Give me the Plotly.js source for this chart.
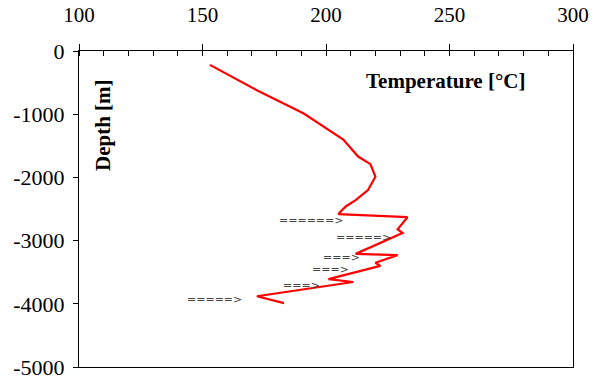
<!DOCTYPE html>
<html>
<head>
<meta charset="utf-8">
<script src="https://cdn.plot.ly/plotly-3.0.1.min.js"></script>
<style>html,body{margin:0;padding:0;background:#fff;}#chart{width:595px;height:381px;}</style>
</head>
<body>
<div id="chart"></div>
<script>
// Temperature profile (°C) vs depth (m)
const temperature = [153, 172, 191, 207, 213, 218, 220, 217, 212, 208, 205, 233, 229, 231, 212, 229, 220, 222, 201, 211, 172, 183];
const depth = [-220, -620, -990, -1400, -1670, -1790, -1990, -2200, -2360, -2460, -2580, -2630, -2820, -2880, -3210, -3230, -3350, -3400, -3610, -3655, -3880, -3990];

// Arrow markers (text) pointing at zones
const arrowTemps = [208, 227, 214.6, 210, 198.5, 166.7];
const arrowDepths = [-2685, -2954, -3265, -3450, -3714, -3929];
const arrowLabels = ["======>", "=====>", "===>", "===>", "===>", "=====>"];

// Tick labels
const xTickVals = [100, 150, 200, 250, 300];
const xTickText = ["100", "150", "200", "250", "300"];
const yTickVals = [0, -1000, -2000, -3000, -4000, -5000];
const yTickText = ["0", "-1000", "-2000", "-3000", "-4000", "-5000"];

const serif = "Liberation Serif, Times New Roman, serif";

const traces = [{
  x: temperature, y: depth, type: "scatter", mode: "lines",
  line: {color: "#ff0000", width: 2.2}, showlegend: false, hoverinfo: "none"
}];

const annotations = arrowLabels.map((t, i) => ({
  x: arrowTemps[i], y: arrowDepths[i], xref: "x", yref: "y",
  text: t, showarrow: false, xanchor: "right", yanchor: "middle",
  font: {family: "DejaVu Sans, sans-serif", size: 11, color: "#444444"}
}));
annotations.push({
  xref: "paper", yref: "paper", x: (445 - 79) / 494, y: 1 - (81 - 51) / 316,
  text: "<b>Temperature [°C]</b>", showarrow: false, xanchor: "center", yanchor: "middle",
  font: {family: serif, size: 21, color: "#000"}
});
annotations.push({
  xref: "paper", yref: "paper", x: (103 - 79) / 494, y: 1 - (125 - 51) / 316,
  text: "<b>Depth [m]</b>", showarrow: false, textangle: -90, xanchor: "center", yanchor: "middle",
  font: {family: serif, size: 21, color: "#000"}
});

const layout = {
  width: 595, height: 381,
  margin: {l: 79, r: 22, t: 51, b: 14, pad: 0},
  paper_bgcolor: "#fff", plot_bgcolor: "#fff",
  font: {family: serif, size: 21, color: "#000"},
  showlegend: false,
  xaxis: {
    range: [100, 300], side: "top", tickmode: "array", tickvals: xTickVals, ticktext: xTickText,
    ticks: "outside", ticklen: 6, tickwidth: 1, tickcolor: "#000",
    minor: {ticks: "inside", ticklen: 5, dtick: 10, tickcolor: "#000", tickwidth: 1, showgrid: false},
    showline: true, linecolor: "#000", linewidth: 1, mirror: true,
    showgrid: false, zeroline: false, ticklabelstandoff: 14,
    tickfont: {family: serif, size: 21, color: "#000"}, fixedrange: true
  },
  xaxis2: {
    range: [100, 300], overlaying: "x", side: "top", anchor: "y",
    tickmode: "array", tickvals: xTickVals, ticks: "inside", ticklen: 6, tickcolor: "#000",
    showticklabels: false, showline: false, showgrid: false, zeroline: false, fixedrange: true
  },
  yaxis: {
    range: [-5000, 0], tickmode: "array", tickvals: yTickVals, ticktext: yTickText,
    ticks: "outside", ticklen: 5, tickwidth: 1, tickcolor: "#000",
    showline: true, linecolor: "#000", linewidth: 1, mirror: true,
    showgrid: false, zeroline: false, ticklabelstandoff: 4,
    tickfont: {family: serif, size: 22, color: "#000"}, fixedrange: true
  },
  annotations: annotations
};

Plotly.newPlot("chart", traces, layout, {staticPlot: true, displayModeBar: false});
</script>
</body>
</html>
